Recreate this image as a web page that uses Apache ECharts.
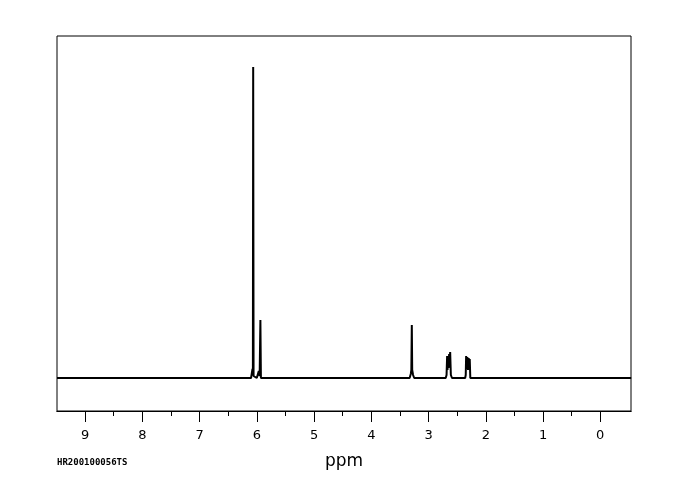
<!DOCTYPE html>
<html>
<head>
<meta charset="utf-8">
<script src="https://cdn.jsdelivr.net/npm/echarts@6/dist/echarts.min.js"></script>
<style>
html,body{margin:0;padding:0;background:#fff;}
#chart{width:680px;height:500px;}
</style>
</head>
<body>
<div id="chart"></div>
<script>
// Chemical shift (ppm) and intensity values
const ppm = [9.49, 6.10, 6.085, 6.075, 6.068, 6.063, 6.056, 6.00, 5.965, 5.95, 5.937, 5.928, 5.90,
  3.33, 3.31, 3.30, 3.292, 3.285, 3.27, 3.25,
  2.70, 2.685, 2.675, 2.668, 2.66, 2.65, 2.64, 2.632, 2.622, 2.61, 2.59,
  2.36, 2.35, 2.343, 2.335, 2.322, 2.31, 2.298, 2.29, 2.28, 2.27, 2.25, -0.54];
const intensity = [0, 0, 2, 9, 3, 311, 2, 0, 7, 2, 58, 0, 0,
  0, 4, 8, 53, 8, 3, 0,
  0, 3, 22, 8, 20, 10, 24, 12, 26, 3, 0,
  0, 3, 22, 9, 21, 8, 20, 8, 19, 0, 0, 0];
const majorTicks = [0, 1, 2, 3, 4, 5, 6, 7, 8, 9];
const minorTicks = [0.5, 1.5, 2.5, 3.5, 4.5, 5.5, 6.5, 7.5, 8.5];
const xTitle = 'ppm';
const sampleId = 'HR200100056TS';

const points = ppm.map((p, i) => [p, intensity[i]]);
const chart = echarts.init(document.getElementById('chart'), null, {renderer: 'canvas'});
const baseAxis = {
  type: 'value', min: -0.537, max: 9.49, inverse: true, position: 'bottom', offset: 0,
  splitLine: {show: false},
  axisLine: {show: true, onZero: false, lineStyle: {color: '#000', width: 1}}
};
chart.setOption({
  animation: false,
  backgroundColor: '#fff',
  grid: {left: 57, top: 36, width: 574, height: 375, show: true, borderColor: '#000', borderWidth: 1, backgroundColor: 'transparent'},
  xAxis: [
    Object.assign({}, baseAxis, {
      gridIndex: 0,
      axisTick: {show: true, inside: false, length: 11, customValues: majorTicks, lineStyle: {color: '#000', width: 1}},
      axisLabel: {show: true, customValues: majorTicks, margin: 18, color: '#000', fontSize: 13, fontFamily: 'DejaVu Sans'},
      name: xTitle, nameLocation: 'middle', nameGap: 42,
      nameTextStyle: {color: '#000', fontSize: 17, fontFamily: 'DejaVu Sans', fontWeight: 'normal'}
    }),
    Object.assign({}, baseAxis, {
      gridIndex: 0,
      axisTick: {show: true, inside: false, length: 5, customValues: minorTicks, lineStyle: {color: '#000', width: 1}},
      axisLabel: {show: false}
    })
  ],
  yAxis: {type: 'value', min: -33, max: 342, show: false},
  graphic: [{
    type: 'text', left: 57, top: 458,
    style: {text: sampleId, fill: '#000', font: 'bold 9px "DejaVu Sans Mono"'}
  }],
  series: [{
    type: 'line', data: points, xAxisIndex: 0, showSymbol: false, symbol: 'none',
    smooth: false, sampling: null,
    lineStyle: {color: '#000', width: 2}, clip: true
  }]
});
</script>
</body>
</html>
